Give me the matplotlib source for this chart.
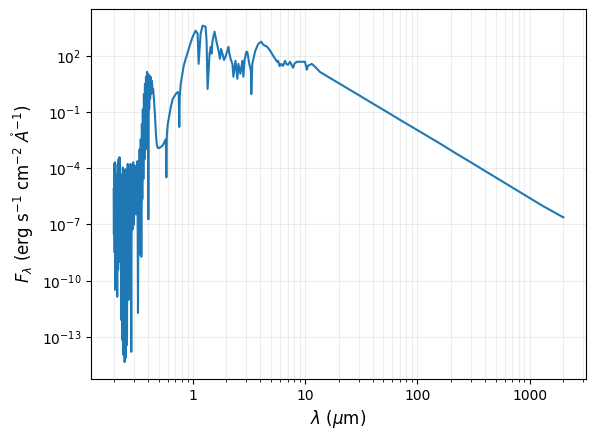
import matplotlib
matplotlib.use("Agg")
import matplotlib.pyplot as plt
from matplotlib.ticker import ScalarFormatter

wavelength_um = [
    0.198, 0.199, 0.200, 0.202, 0.203, 0.204, 0.206, 0.208, 0.210, 0.213,
    0.215, 0.217, 0.219, 0.221, 0.223, 0.226, 0.229, 0.231, 0.234, 0.236,
    0.239, 0.242, 0.245, 0.248, 0.251, 0.254, 0.257, 0.260, 0.264, 0.268,
    0.272, 0.276, 0.280, 0.284, 0.287, 0.291, 0.295, 0.300, 0.304, 0.309,
    0.313, 0.318, 0.322, 0.326, 0.330, 0.334, 0.337, 0.341, 0.345, 0.349,
    0.353, 0.356, 0.360, 0.364, 0.368, 0.372, 0.376, 0.380, 0.384, 0.388,
    0.392, 0.396, 0.400, 0.403, 0.406, 0.410, 0.414, 0.418, 0.422, 0.428,
    0.434, 0.440, 0.445, 0.452, 0.461, 0.471, 0.480, 0.490, 0.500, 0.521,
    0.543, 0.565, 0.577, 0.583, 0.589, 0.601, 0.639, 0.665, 0.707, 0.736,
    0.751, 0.760, 0.767, 0.783, 0.832, 0.867, 0.922, 0.960, 1.000, 1.063,
    1.107, 1.130, 1.177, 1.226, 1.303, 1.330, 1.358, 1.414, 1.450, 1.470,
    1.503, 1.566, 1.631, 1.699, 1.750, 1.790, 1.842, 1.900, 1.959, 2.020,
    2.083, 2.125, 2.190, 2.259, 2.306, 2.403, 2.501, 2.553, 2.659, 2.770,
    2.827, 2.900, 3.004, 3.067, 3.194, 3.300, 3.326, 3.396, 3.611, 3.839,
    4.08, 4.25, 4.61, 4.90, 5.21, 5.65, 5.77, 5.95, 6.13, 6.38,
    6.65, 6.85, 7.07, 7.36, 7.83, 8.10, 8.50, 9.04, 9.60, 10.0,
    10.4, 10.6, 11.5, 12.3, 13.6, 16.6, 20.4, 25.0, 30.7, 37.6,
    46.1, 56.5, 69.3, 85.0, 104.0, 128.0, 157.0, 212.0, 288.0, 392.0,
    532.0, 722.0, 980.0, 1330.0, 2000.0,
]

flux = [
    7.6e-6, 3.0e-8, 1.7e-4, 3.2e-9, 2.1e-4, 3.3e-11, 2.2e-6, 5.4e-8, 4.8e-5, 1.4e-11,
    1.7e-4, 3.9e-10, 3.0e-4, 1.0e-9, 3.9e-4, 1.6e-8, 4.8e-5, 8.1e-13, 2.6e-5, 6.9e-14,
    1.1e-4, 1.1e-14, 1.4e-5, 4.6e-15, 8.9e-5, 7.6e-15, 4.8e-5, 3.7e-14, 1.7e-4, 9.5e-12,
    4.8e-5, 1.6e-8, 1.7e-4, 1.6e-14, 8.9e-5, 5.4e-8, 2.1e-4, 1.0e-7, 1.4e-4, 3.5e-7,
    4.8e-5, 3.5e-7, 2.4e-4, 1.9e-12, 1.7e-4, 2.5e-9, 1.0e-3, 3.0e-8, 3.5e-3, 1.9e-9,
    2.3e-2, 2.2e-6, 0.14, 2.6e-5, 0.91, 3.0e-4, 3.2, 1.0e-3, 7.6, 1.2e-2,
    13.8, 3.5e-3, 11.0, 1.9e-7, 9.5, 0.14, 8.5, 0.50, 7.6, 0.91,
    4.6, 1.35, 1.7, 0.50, 7.8e-2, 6.6e-3, 1.7e-3, 1.2e-3, 1.2e-3, 1.35e-3,
    1.7e-3, 2.8e-3, 3.5e-3, 3.3e-5, 5.9e-3, 2.3e-2, 0.19, 0.50, 0.91, 1.17,
    1.05, 1.6e-2, 0.63, 3.2, 29.0, 69.0, 234.0, 501.0, 1047.0, 2188.0,
    1514.0, 37.0, 1514.0, 4074.0, 3548.0, 631.0, 1.7, 129.0, 302.0, 129.0,
    631.0, 1950.0, 562.0, 186.0, 69.0, 234.0, 129.0, 60.0, 89.0, 160.0,
    302.0, 129.0, 60.0, 37.0, 7.6, 54.0, 5.9, 37.0, 11.0, 54.0,
    7.6, 60.0, 162.0, 162.0, 37.0, 16.0, 0.91, 37.0, 186.0, 437.0,
    562.0, 389.0, 302.0, 186.0, 100.0, 48.0, 54.0, 28.0, 37.0, 29.0,
    54.0, 36.0, 33.0, 48.0, 23.0, 40.0, 48.0, 48.0, 48.0, 48.0,
    18.0, 29.0, 37.0, 26.0, 13.8, 6.7, 3.24, 1.55, 0.75, 0.36,
    0.175, 8.4e-2, 4.0e-2, 1.94e-2, 9.4e-3, 4.5e-3, 2.2e-3, 7.2e-4, 2.4e-4, 7.8e-5,
    2.6e-5, 8.5e-6, 2.8e-6, 9.3e-7, 2.4e-7,
]

fig, ax = plt.subplots(figsize=(5.96, 4.40), dpi=100)
fig.subplots_adjust(left=0.153, right=0.983, top=0.98, bottom=0.139)

ax.plot(wavelength_um, flux, color="#1f77b4", linewidth=1.5)
ax.set_xscale("log")
ax.set_yscale("log")
ax.xaxis.set_major_formatter(ScalarFormatter())
ax.grid(True, which="both", color="#b0b0b0", alpha=0.22, linewidth=0.8)
ax.set_xlabel(r"$\lambda$ ($\mu$m)", fontsize=12)
ax.set_ylabel(r"$F_\lambda$ (erg s$^{-1}$ cm$^{-2}$ $\mathring{A}^{-1}$)", fontsize=12)

fig.savefig("out.png", dpi=100)
